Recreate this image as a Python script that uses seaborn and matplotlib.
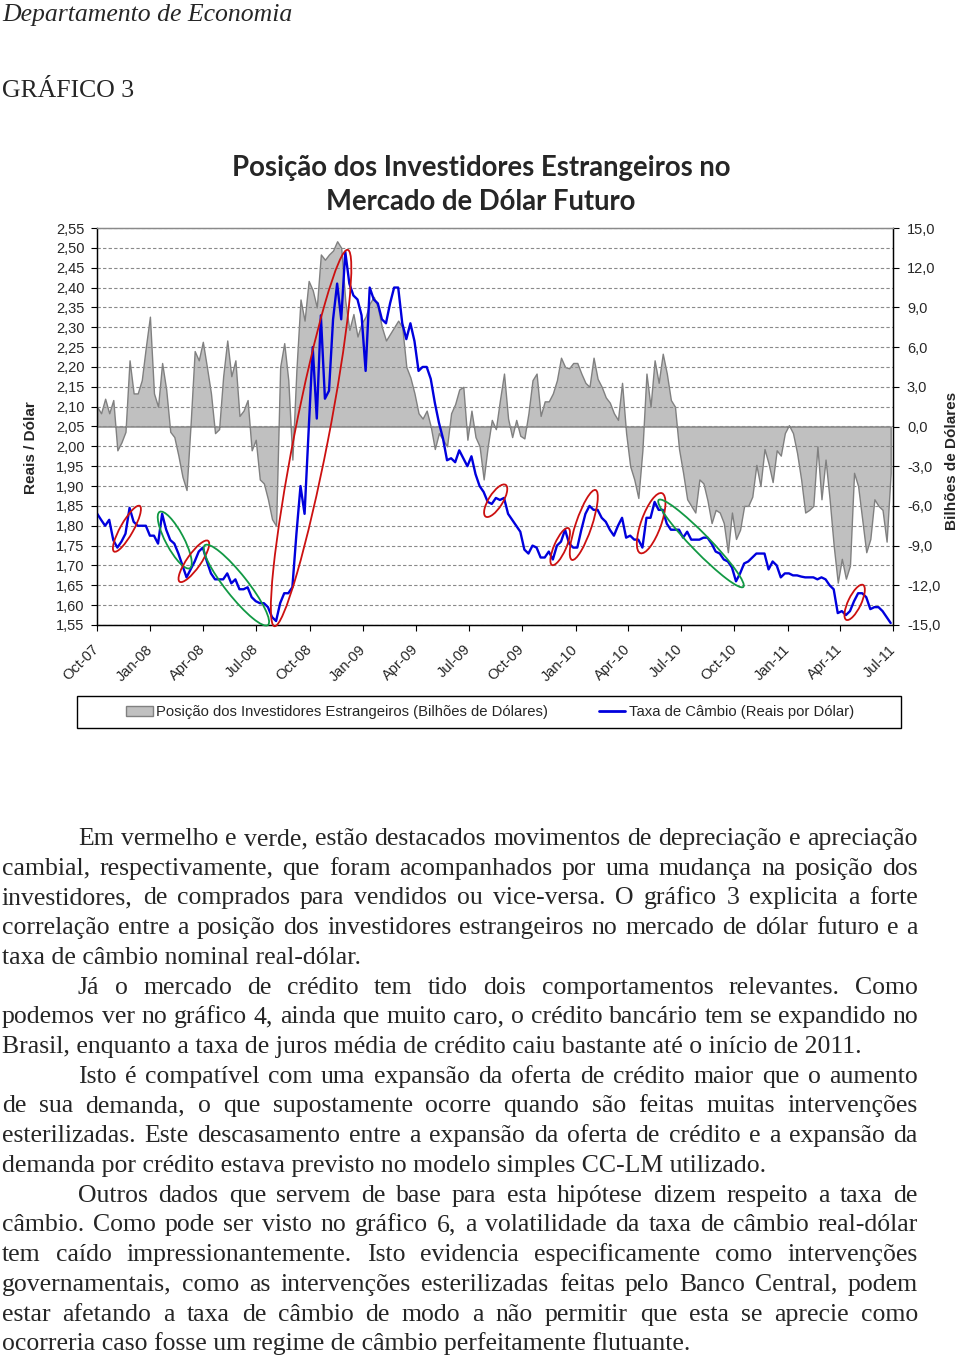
import matplotlib
matplotlib.use("Agg")
import matplotlib.pyplot as plt
import matplotlib.dates as mdates
import matplotlib.ticker as mticker
from matplotlib.patches import Ellipse, Rectangle, Patch
from matplotlib.lines import Line2D
from matplotlib.transforms import IdentityTransform
import seaborn as sns
import pandas as pd
import numpy as np

# -----------------------------------------------------------------------------
# DATA (weekly)
# -----------------------------------------------------------------------------
START = "2007-10-01"

# Foreign investors' position, USD billions (right axis)
POSITION = [
    1.5, 1.0, 2.1, 1.0, 2.0, -1.8, -1.2, -0.4, 5.0, 2.5, 2.5, 3.5, 6.0,
    8.3, 2.5, 1.5, 4.8, 2.8, -0.4, -0.8, -2.2, -3.8, -4.8, 0.2, 5.7, 5.0,
    6.4, 4.5, 2.5, -0.5, -0.2, 3.8, 6.5, 3.8, 5.0, 0.8, 1.2, 2.0, -1.8,
    -1.0, -4.0, -4.3, -5.5, -7.0, -7.5, 4.5, 6.3, 3.5, -2.5, 4.3, 9.6, 8.0,
    11.0, 10.3, 9.0, 13.0, 12.6, 13.0, 13.3, 14.0, 13.5, 9.5, 7.3, 8.5, 6.8,
    7.8, 8.3, 9.3, 9.8, 9.0, 7.5, 6.5, 7.0, 7.5, 8.0, 7.5, 4.5, 3.7,
    2.5, 1.0, 0.6, 1.2, 0.0, -1.7, -0.5, -1.0, -1.5, 1.0, 1.7, 2.8, 3.0,
    -1.0, 1.2, -0.8, -1.5, -4.0, -1.5, 0.5, -0.2, 2.0, 4.0, 0.6, -0.8, 0.5,
    -0.7, -0.9, 1.0, 3.5, 4.0, 0.8, 1.9, 1.9, 2.5, 3.5, 5.2, 4.5, 4.4,
    4.8, 4.8, 4.0, 3.3, 3.0, 5.2, 3.6, 3.0, 2.2, 1.8, 1.0, 0.5, 3.3,
    -0.5, -3.0, -4.0, -5.4, -1.8, 4.0, 1.5, 5.0, 3.3, 5.5, 4.0, 2.0, 1.5,
    -1.7, -3.5, -5.5, -6.0, -6.5, -4.0, -4.3, -5.6, -7.3, -6.3, -6.5, -7.3, -9.5,
    -6.5, -8.5, -7.8, -6.0, -6.0, -5.3, -2.9, -4.5, -1.7, -2.8, -4.2, -1.8, -2.2,
    -0.5, 0.1, -0.5, -2.0, -4.0, -6.5, -6.3, -6.0, -1.5, -5.5, -2.5, -5.5, -9.0,
    -11.8, -10.0, -11.5, -10.5, -3.5, -4.5, -7.0, -9.5, -8.5, -5.5, -6.0, -6.3, -8.7,
    -3.5,
]

# Exchange rate, BRL per USD (left axis)
RATE = [
    1.831, 1.815, 1.80, 1.815, 1.764, 1.745, 1.76, 1.78, 1.845, 1.81, 1.80, 1.80, 1.80,
    1.775, 1.775, 1.755, 1.83, 1.79, 1.764, 1.755, 1.73, 1.70, 1.67, 1.69, 1.71, 1.735,
    1.745, 1.71, 1.68, 1.665, 1.665, 1.665, 1.68, 1.655, 1.665, 1.64, 1.64, 1.645, 1.62,
    1.61, 1.605, 1.605, 1.595, 1.57, 1.56, 1.605, 1.63, 1.63, 1.645, 1.78, 1.90, 1.83,
    2.04, 2.25, 2.07, 2.33, 2.12, 2.14, 2.32, 2.41, 2.32, 2.49, 2.41, 2.38, 2.37,
    2.33, 2.19, 2.40, 2.37, 2.36, 2.32, 2.31, 2.36, 2.40, 2.40, 2.31, 2.27, 2.31,
    2.265, 2.19, 2.20, 2.20, 2.17, 2.11, 2.06, 2.02, 1.965, 1.97, 1.96, 1.99, 1.97,
    1.95, 1.975, 1.93, 1.90, 1.885, 1.86, 1.855, 1.87, 1.865, 1.87, 1.83, 1.815, 1.80,
    1.785, 1.74, 1.73, 1.75, 1.745, 1.72, 1.72, 1.735, 1.715, 1.75, 1.76, 1.79, 1.755,
    1.745, 1.745, 1.79, 1.83, 1.85, 1.84, 1.84, 1.82, 1.81, 1.79, 1.775, 1.80, 1.82,
    1.77, 1.775, 1.765, 1.765, 1.745, 1.82, 1.82, 1.86, 1.84, 1.84, 1.805, 1.79, 1.79,
    1.79, 1.77, 1.785, 1.765, 1.765, 1.765, 1.77, 1.77, 1.755, 1.735, 1.73, 1.715, 1.71,
    1.695, 1.66, 1.68, 1.705, 1.71, 1.72, 1.73, 1.73, 1.73, 1.69, 1.71, 1.70, 1.67,
    1.68, 1.68, 1.675, 1.675, 1.672, 1.67, 1.67, 1.67, 1.665, 1.67, 1.665, 1.65, 1.64,
    1.58, 1.585, 1.575, 1.585, 1.61, 1.63, 1.63, 1.62, 1.59, 1.595, 1.595, 1.585, 1.57,
    1.555,
]

# Highlighted moves: (start week, start rate, end week, end rate, kind)
HIGHLIGHTS = [
    (4.2, 1.735, 10.5, 1.850, "dep"),
    (15.4, 1.835, 22.8, 1.693, "app"),
    (20.3, 1.659, 27.3, 1.762, "dep"),
    (26.5, 1.751, 42.0, 1.550, "app"),
    (43.6, 1.547, 61.6, 2.495, "dep"),
    (95.5, 1.823, 100.4, 1.903, "dep"),
    (111.8, 1.701, 115.8, 1.794, "dep"),
    (116.7, 1.714, 122.5, 1.890, "dep"),
    (133.5, 1.731, 138.8, 1.882, "dep"),
    (138.0, 1.865, 158.8, 1.646, "app"),
    (184.1, 1.563, 188.2, 1.651, "dep"),
]
HIGHLIGHT_WIDTH = [13, 18, 14, 22, 34, 14, 12, 16, 20, 18, 13]

LEGEND_LABELS = ["Posição dos Investidores Estrangeiros (Bilhões de Dólares)",
                 "Taxa de Câmbio (Reais por Dólar)"]

PARAGRAPHS = [
    ["Em vermelho e verde, estão destacados movimentos de depreciação e apreciação",
     "cambial, respectivamente, que foram acompanhados por uma mudança na posição dos",
     "investidores, de comprados para vendidos ou vice-versa. O gráfico 3 explicita a forte",
     "correlação entre a posição dos investidores estrangeiros no mercado de dólar futuro e a",
     "taxa de câmbio nominal real-dólar."],
    ["Já o mercado de crédito tem tido dois comportamentos relevantes. Como",
     "podemos ver no gráfico 4, ainda que muito caro, o crédito bancário tem se expandido no",
     "Brasil, enquanto a taxa de juros média de crédito caiu bastante até o início de 2011."],
    ["Isto é compatível com uma expansão da oferta de crédito maior que o aumento",
     "de sua demanda, o que supostamente ocorre quando são feitas muitas intervenções",
     "esterilizadas. Este descasamento entre a expansão da oferta de crédito e a expansão da",
     "demanda por crédito estava previsto no modelo simples CC-LM utilizado."],
    ["Outros dados que servem de base para esta hipótese dizem respeito a taxa de",
     "câmbio. Como pode ser visto no gráfico 6, a volatilidade da taxa de câmbio real-dólar",
     "tem caído impressionantemente. Isto evidencia especificamente como intervenções",
     "governamentais, como as intervenções esterilizadas feitas pelo Banco Central, podem",
     "estar afetando a taxa de câmbio de modo a não permitir que esta se aprecie como",
     "ocorreria caso fosse um regime de câmbio perfeitamente flutuante."],
]

# -----------------------------------------------------------------------------
# STYLE
# -----------------------------------------------------------------------------
sns.set_theme(style="white")
plt.rcParams["font.family"] = ["Liberation Sans", "DejaVu Sans"]
SERIF = ["Liberation Serif", "DejaVu Serif"]

GRAY_FILL = "#C0C0C0"
GRAY_EDGE = "#808080"
BLUE = "#0000DD"
RED = "#CC1010"
GREEN = "#119944"

W, H = 960, 1357


def fx(px):
    return px / W


def fy(py):
    return 1 - py / H


df = pd.DataFrame({
    "date": pd.date_range(START, periods=len(RATE), freq="7D"),
    "position": POSITION,
    "rate": RATE,
})

fig = plt.figure(figsize=(W / 100, H / 100), dpi=100)
fig.patch.set_facecolor("white")

# position axis (area, right scale) sits below the rate axis (line, left scale)
ax = fig.add_axes([fx(97), fy(625), fx(893) - fx(97), fy(228) - fy(625)])
ax2 = ax.twinx()
ax.yaxis.tick_right()
ax.yaxis.set_label_position("right")
ax2.yaxis.tick_left()
ax2.yaxis.set_label_position("left")

ax.fill_between(df["date"], 0, df["position"], facecolor=GRAY_FILL,
                edgecolor=GRAY_EDGE, linewidth=1.0)
sns.lineplot(data=df, x="date", y="rate", ax=ax2, color=BLUE, linewidth=1.7)

ax.set_xlim(pd.Timestamp("2007-10-01"), pd.Timestamp("2011-07-01"))
ax.set_ylim(-15, 15)
ax2.set_ylim(1.55, 2.55)

ax.set_yticks(np.arange(-15, 15.1, 3))
ax2.set_yticks(np.arange(1.55, 2.5501, 0.05))
ax.yaxis.set_major_formatter(mticker.FuncFormatter(lambda v, p: f"{v:.1f}".replace(".", ",")))
ax2.yaxis.set_major_formatter(mticker.FuncFormatter(lambda v, p: f"{v:.2f}".replace(".", ",")))
ax.xaxis.set_major_locator(mdates.MonthLocator(bymonth=[1, 4, 7, 10]))
ax.xaxis.set_major_formatter(mdates.DateFormatter("%b-%y"))

ax2.yaxis.grid(True, linestyle=(0, (3, 2)), color="#8a8a8a", linewidth=0.8)
ax.grid(False)

for a in (ax, ax2):
    a.tick_params(length=4, width=0.8, color="black", labelsize=10.5, direction="out")
    for side in ("left", "right", "bottom"):
        a.spines[side].set_color("black")
        a.spines[side].set_linewidth(0.9)
    a.spines["top"].set_color("#8a8a8a")
    a.spines["top"].set_linewidth(0.9)
ax.tick_params(axis="y", pad=6)
ax2.tick_params(axis="y", pad=5)
ax.tick_params(axis="x", pad=12, bottom=True)
plt.setp(ax.get_xticklabels(), rotation=45, ha="right", va="center", rotation_mode="anchor")

ax.set_xlabel("")
ax2.set_xlabel("")
ax.set_ylabel("Bilhões de Dólares", fontsize=11, fontweight="bold", rotation=90)
ax2.set_ylabel("Reais / Dólar", fontsize=11, fontweight="bold")
ax.yaxis.set_label_coords(1.0653, 0.413)
ax2.yaxis.set_label_coords(-0.0735, 0.448)

# highlight ellipses drawn in pixel space so the tilt follows the picture
start = pd.Timestamp(START)
for (w0, r0, w1, r1, kind), width in zip(HIGHLIGHTS, HIGHLIGHT_WIDTH):
    p0 = ax2.transData.transform((mdates.date2num(start + pd.Timedelta(weeks=w0)), r0))
    p1 = ax2.transData.transform((mdates.date2num(start + pd.Timedelta(weeks=w1)), r1))
    centre = (p0 + p1) / 2
    length = np.hypot(*(p1 - p0))
    angle = np.degrees(np.arctan2(p1[1] - p0[1], p1[0] - p0[0]))
    fig.add_artist(Ellipse(centre, length, width, angle=angle, fill=False,
                           edgecolor=RED if kind == "dep" else GREEN, linewidth=1.3,
                           transform=IdentityTransform(), clip_on=False))

# legend with an Excel-like box
handles = [Patch(facecolor=GRAY_FILL, edgecolor=GRAY_EDGE),
           Line2D([], [], color=BLUE, linewidth=2)]
fig.legend(handles, LEGEND_LABELS, loc="center", bbox_to_anchor=(fx(490), fy(712)),
           ncol=2, frameon=False, fontsize=10.7, columnspacing=3.4,
           handlelength=1.8, handletextpad=0.25)
fig.add_artist(Rectangle((fx(77), fy(728)), fx(901) - fx(77), fy(696) - fy(728),
                         transform=fig.transFigure, fill=False, edgecolor="black", linewidth=1))

# headings
fig.text(fx(2), fy(21), "Departamento de Economia", family=SERIF, style="italic",
         fontsize=18.5, va="baseline", ha="left")
fig.text(fx(2), fy(97), "GRÁFICO 3", family=SERIF, fontsize=18.5, va="baseline", ha="left")
fig.text(fx(481), fy(176), "Posição dos Investidores Estrangeiros no",
         family=["Lato", "DejaVu Sans"], fontweight="bold", fontsize=19.8, ha="center", va="baseline")
fig.text(fx(481), fy(210), "Mercado de Dólar Futuro",
         family=["Lato", "DejaVu Sans"], fontweight="bold", fontsize=19.8, ha="center", va="baseline")

# body text, justified like the source document
renderer = fig.canvas.get_renderer()
probe = fig.text(0, 0, PARAGRAPHS[1][-1], family=SERIF, fontsize=16)
body_size = 16 * 860 / probe.get_window_extent(renderer).width
probe.remove()

line_no = 0
for para in PARAGRAPHS:
    for i, line in enumerate(para):
        y = fy(845 + 29.72 * line_no)
        x0 = 78 if i == 0 else 2
        if i == len(para) - 1:
            fig.text(fx(x0), y, line, family=SERIF, fontsize=body_size, va="baseline")
        else:
            words = line.split()
            arts = [fig.text(0, y, wd, family=SERIF, fontsize=body_size, va="baseline")
                    for wd in words]
            widths = [t.get_window_extent(renderer).width for t in arts]
            gap = (918 - x0 - sum(widths)) / (len(words) - 1)
            x = x0
            for t, wpx in zip(arts, widths):
                t.set_x(fx(x))
                x += wpx + gap
        line_no += 1

fig.savefig("out.png", dpi=100, facecolor="white")
